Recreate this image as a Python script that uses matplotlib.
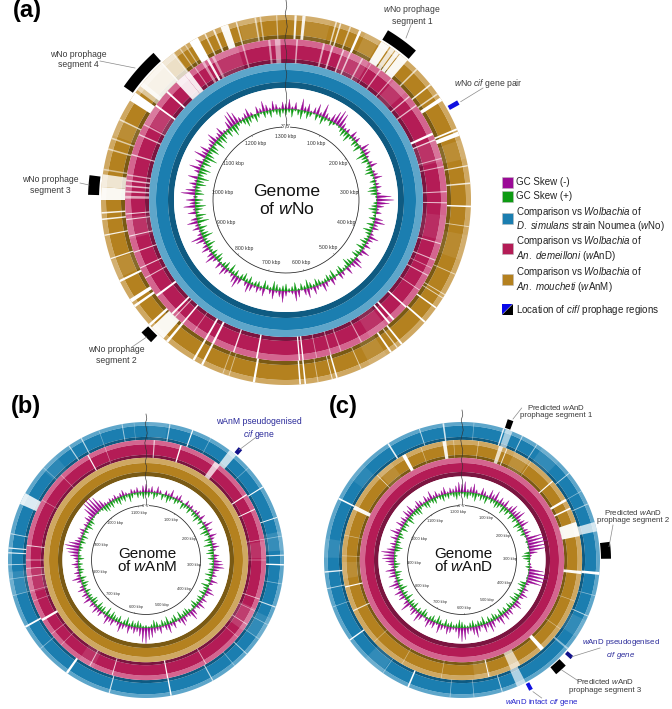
import matplotlib
matplotlib.use('Agg')
import matplotlib.pyplot as plt
from matplotlib.collections import PolyCollection
from matplotlib.patches import Rectangle, Polygon
import numpy as np

plt.rcParams['font.family'] = ['Liberation Sans', 'DejaVu Sans']
plt.rcParams['mathtext.fontset'] = 'custom'
plt.rcParams['mathtext.rm'] = 'Liberation Sans'
plt.rcParams['mathtext.it'] = 'Liberation Sans:italic'
plt.rcParams['mathtext.bf'] = 'Liberation Sans:bold'

BLUE = ['#5ea6ca', '#1b7eb0', '#0f5b82']
PINK = ['#d4658f', '#b41c56', '#7b1540']
GOLD = ['#cfa862', '#b4811f', '#7a5a14']

# track edges at the size of panel (a): rim, main band, dark band, inner edge
OUTER = (185, 180, 165, 161)
MIDDLE = (161, 155, 141, 137)
INNER = (137, 130, 118, 112)

# genome lengths (kbp) and tick labels
genome_a = 1301
genome_b = 1125
genome_c = 1216
ticks_a = [100, 200, 300, 400, 500, 600, 700, 800, 900, 1000, 1100, 1200, 1300]
ticks_b = [100, 200, 300, 400, 500, 600, 700, 800, 900, 1000, 1100]
ticks_c = [100, 200, 300, 400, 500, 600, 700, 800, 900, 1000, 1100, 1200]

# ring gaps: angle (deg clockwise from top), width, opacity of the white
gaps_a_gold = [(-88, 4, .95), (-84, 4, .8), (-80.5, .5, .5), (-74, .5, .6), (-70.5, .5, .6), (-64.2, .5, .7),
               (-56, 3, 1), (-52, 3, .55), (-47, 10, .9), (-40, 5, .75), (-37.5, .6, .6), (-35, .4, .5), (-33, .4, .5),
               (-30, 3, 1), (-26, .5, .7), (-23, .6, .8), (-19.5, 2.5, .95), (-15.6, .5, .7), (-9.6, .5, .6),
               (-8, .5, .5), (-2.9, .4, .5), (3, .7, .9), (5.6, 1, .9), (15.8, .5, .7), (17.2, .5, .8), (20.4, .5, .6),
               (23.7, .8, 1), (32.5, 3, .95), (35.2, 1.5, .8), (37, 1.4, .9), (39.5, 3, .95), (45, .5, .7),
               (51.4, .5, .9), (55, .5, .7), (57, 1.2, 1), (67.5, .6, 1), (69, 1.4, 1), (79.3, .4, .8), (84.8, .5, .8),
               (92, .5, 1), (98.3, .3, .6), (113.7, .3, .6), (120.8, .3, .7), (122, .3, .7), (125.7, .5, 1),
               (131.3, .6, 1), (141.2, .6, 1), (143, .4, .7), (145.4, .6, 1), (156, .3, .6), (164, .5, 1), (165.5, .3, .8),
               (170, .3, .5), (174, .5, 1), (175.6, .5, 1),
               (-94, .5, .9), (-96, .5, .9), (-101, .4, .9), (-108.5, .4, .9), (-116, .7, 1), (-123, 1.2, 1),
               (-125, .8, 1), (-136, 5, .95), (-132.5, .8, 1), (-140, .8, 1), (-150, .7, 1), (-153, .7, 1),
               (-160, .3, .5), (-162, .3, .5), (-170, .7, 1),
               (-12, 6, .1), (10, 8, .08), (28, 5, .12), (74, 6, .1), (105, 8, .08), (150, 6, .1), (-112, 6, .1), (-67, 5, .1)]
gaps_a_pink = [(-89, 1, .6), (-87, .6, .7), (-85, .6, .7), (-83, .6, .7), (-81, .5, .6), (-73.6, .5, .7), (-66, .5, .7),
               (-62, .5, .6), (-54, .7, 1), (-47.7, .7, 1), (-41, 4, .9), (-38, 2, .9), (-34.5, .4, .5), (-31, 1, .5),
               (-29, .9, .95), (-27, 1, .5), (-15.6, .6, .5), (-6, .8, .5), (-3, 2, .5), (4, .6, .6), (13.7, .7, .6),
               (16.9, .7, .7), (21, .6, .7), (23.6, .6, .7), (28.4, .6, .6), (32, .3, .5), (36, .5, .6), (41, .4, .6),
               (50, .5, .7), (54, .5, .7), (65.7, .9, 1), (68, .5, .8), (75, .4, .6), (78, .4, .6), (87, .4, .7),
               (91, .4, .7), (105.8, .4, .7), (112, .4, .7), (115, .3, .5), (118, .4, .7), (124, .3, .7), (131.7, .6, 1),
               (138, .7, 1), (140, .7, 1), (152, .4, .6), (160, .4, .5), (163.8, .4, .5), (169, .3, .5), (173.9, .5, 1),
               (175.2, .5, 1), (-95, .4, .8), (-97, .4, .8), (-103, .4, .8), (-109, .4, .8), (-115, .4, .8),
               (-119, .4, .7), (-126.5, .8, 1), (-135, .7, 1), (-136.5, .4, .7), (-140, .6, 1), (-145, .3, .5),
               (-150, .7, 1), (-153, .8, 1), (-161, .5, .9), (-169.5, .6, 1),
               (-22, 9, .12), (26, 10, .15), (45, 6, .12), (72, 8, .1), (100, 9, .08), (145, 7, .1), (-100, 8, .1), (-58, 7, .15)]

gaps_b_blue = [(-85, .5, .9), (-87, .5, .9), (-92, .4, .7), (-79, .4, .7), (-63.5, 5, .85), (-34, .5, .7), (-28, .5, .7),
               (-10, .4, .6), (-5, .2, .4), (10, .5, .7), (19.8, .5, 1), (39, 3.5, .75), (58, .5, 1), (72, .4, 1), (88, .5, .8),
               (92, .6, 1), (100, .3, .5), (110, .5, .8), (118, .3, .5), (133, .4, .7), (140, .3, .5), (151, .5, .7),
               (169.5, .6, 1), (-164.5, .5, .8), (-145, 1, 1), (-130, .3, .5), (-119, .8, 1), (-105, .3, .5), (-98, .3, .5),
               (-48, .3, .4), (-20, .3, .4), (28, .3, .4), (48, .3, .4), (80, .3, .5), (125, .3, .5),
               (-45, 8, .08), (5, 8, .08), (82, 8, .12), (120, 10, .1), (-100, 10, .1)]
gaps_b_pink = [(-163.6, .5, .8), (-152, .5, .7), (-120, 1.2, 1), (-98, .4, .7), (-94, .4, .7), (-90, .4, .7), (-83, .5, .8),
               (-60, .3, .5), (-45, .3, .5), (-29, .6, 1), (-20, .3, .5), (4, .6, .7), (17, .7, 1), (36.5, 3, .75), (57, .6, 1),
               (65, .5, 1), (80, .3, .6), (90, .3, .6), (109, .4, .7), (115, .3, .6), (122.5, .4, .7), (130, .3, .5),
               (150, .4, .7), (169.6, .6, 1), (-135, .3, .5), (-128, .3, .6), (-110, .3, .5), (-105, .3, .5),
               (-100, 12, .12), (120, 12, .15), (85, 8, .1), (-150, 8, .1)]

gaps_c_blue = [(-125.5, .6, 1), (-110, .3, .5), (-157, .7, 1), (-145, .3, .5), (-63.5, .7, 1), (-95, .6, .9), (-102, .4, .7),
               (-32.4, .7, .9), (-18, .4, .7), (-7.8, .7, .8), (5, .3, .4), (17.6, .6, .9), (20, 3, .6), (26, .4, .7),
               (33, .4, .6), (51, .4, .7), (60, .3, .5), (66, .4, .6), (76, 4, .75), (95.6, 1.2, 1), (105, .3, .5),
               (114, .4, .7), (130, .8, .5), (154.5, 4, .65), (163, .4, .7), (175, .3, .5), (-175, .3, .5),
               (40, 9, .1), (-50, 8, .08), (-140, 9, .1), (-85, 8, .1), (120, 8, .1)]
gaps_c_gold = [(-115, .6, .8), (-103, .6, 1), (-64, 2, .95), (-45, .4, .7), (-29, 1.8, 1), (-20, .3, .5), (-8.5, 1.8, .9),
               (-4, .3, .5), (8, .3, .6), (19, 2, .75), (22, .5, .8), (35, .3, .5), (49, .6, 1), (60, 1.2, 1), (64.5, .8, 1),
               (75, 7, .95), (96, 1.5, .95), (110, .3, .5), (125, .3, .5), (138, 2, 1), (153.5, 5, .65), (167, .5, 1),
               (-170, .3, .5), (-150, .3, .5), (-133, .3, .5), (-88, .3, .5), (-78, .3, .5),
               (30, 8, .12), (-95, 8, .1), (-40, 8, .1), (170, 8, .1)]

# GC skew per bin clockwise from the top, px at the size of panel (a)
skew_neg_a = [6, 11, 3, 8, 0, 13, 5, 9, 2, 7, 12, 4, 15, 6, 3, 9, 14, 18, 16, 7,
              3, 5, 0, 8, 4, 6, 0, 2, 10, 6, 7, 3, 1, 4, 8, 0, 3, 5, 9, 2,
              4, 6, 2, 5, 16, 19, 14, 8, 3, 6, 0, 9, 12, 5, 7, 2, 4, 11, 6, 3,
              7, 2, 10, 4, 0, 8, 12, 6, 3, 9, 1, 5, 7, 0, 4, 8, 2, 6, 10, 3,
              5, 9, 3, 11, 7, 1, 8, 12, 4, 2, 6, 13, 7, 3, 10, 5, 0, 9, 4, 7,
              3, 8, 11, 5, 0, 7, 13, 9, 4, 2, 6, 10, 3, 8, 1, 5, 12, 7, 2, 9,
              6, 3, 10, 14, 5, 2, 8, 4, 12, 7, 1, 9, 3, 13, 6, 10, 2, 16, 11, 4,
              8, 3, 11, 1, 6, 13, 4, 9, 2, 14, 7, 11, 3, 5, 8, 12, 4, 6, 10, 3,
              2, 9, 15, 17, 13, 5, 3, 6, 10, 4, 0, 8, 5, 12, 7, 3, 10, 6, 2, 8]
skew_pos_a = [7, 4, 9, 2, 6, 10, 3, 8, 5, 1, 7, 3, 9, 4, 2, 6, 3, 1, 2, 5,
              8, 6, 10, 4, 3, 7, 5, 9, 2, 4, 11, 6, 8, 3, 5, 7, 9, 4, 2, 6,
              3, 8, 10, 7, 2, 1, 4, 6, 9, 5, 3, 7, 2, 8, 4, 10, 6, 3, 5, 8,
              4, 9, 3, 6, 8, 2, 5, 7, 10, 4, 3, 8, 6, 2, 9, 5, 7, 4, 3, 6,
              8, 3, 6, 10, 4, 7, 2, 9, 5, 3, 8, 6, 4, 7, 10, 3, 5, 9, 2, 6,
              5, 3, 8, 4, 9, 6, 2, 7, 4, 10, 3, 8, 5, 2, 6, 9, 4, 7, 3, 5,
              10, 6, 4, 12, 8, 5, 9, 3, 13, 7, 11, 4, 8, 12, 6, 9, 3, 10, 7, 5,
              11, 8, 13, 6, 9, 12, 4, 10, 7, 14, 9, 5, 11, 8, 3, 12, 6, 10, 7, 4,
              9, 5, 12, 8, 4, 3, 6, 10, 7, 4, 9, 5, 2, 7, 4, 8, 3, 6, 9, 5]
skew_neg_b = [12, 6, 9, 3, 10, 5, 0, 7, 4, 11, 2, 6, 9, 3, 0, 8, 4, 6, 2, 5,
              7, 3, 9, 0, 5, 13, 4, 8, 2, 11, 6, 3, 7, 10, 4, 0, 8, 5, 12, 14,
              16, 9, 4, 7, 2, 11, 5, 0, 8, 13, 6, 3, 9, 5, 12, 7, 2, 10, 15, 6,
              4, 9, 13, 6, 2, 10, 5, 14, 8, 3, 11, 6, 9, 15, 18, 24, 22, 13, 7, 10,
              5, 12, 4, 8, 14, 6, 3, 10, 7, 13, 5, 2, 9, 6, 11, 4, 8, 3, 12, 6,
              9, 4, 11, 6, 2, 7, 13, 5, 8, 3, 6, 10, 4, 7, 12, 16, 19, 22, 17, 9,
              6, 3, 5, 8, 2, 6, 4, 10, 7, 18, 24, 27, 25, 21, 12, 5, 3, 6, 4, 7,
              3, 6, 9, 4, 2, 7, 5, 8, 3, 10]
skew_pos_b = [5, 8, 3, 10, 6, 2, 9, 4, 11, 7, 3, 8, 5, 2, 10, 6, 4, 9, 3, 7,
              6, 11, 4, 8, 2, 9, 5, 12, 7, 3, 10, 6, 13, 4, 8, 11, 5, 9, 3, 7,
              3, 8, 6, 11, 4, 9, 2, 12, 7, 5, 10, 3, 8, 6, 4, 11, 7, 2, 5, 9,
              8, 5, 11, 3, 10, 7, 4, 12, 6, 9, 3, 8, 11, 5, 2, 4, 3, 7, 10, 6,
              9, 4, 12, 7, 3, 10, 6, 8, 11, 5, 13, 4, 9, 7, 11, 3, 8, 10, 5, 6,
              4, 8, 3, 7, 10, 5, 9, 2, 6, 8, 4, 7, 3, 9, 5, 2, 4, 6, 3, 8,
              5, 9, 3, 7, 4, 10, 6, 8, 3, 2, 1, 3, 2, 4, 9, 11, 7, 10, 5, 8,
              11, 6, 9, 4, 12, 7, 3, 8, 5, 10]
skew_neg_c = [12, 16, 5, 9, 14, 6, 2, 11, 7, 3, 13, 8, 15, 4, 10, 6, 12, 3, 9, 14,
              8, 12, 16, 5, 9, 13, 3, 7, 10, 6, 24, 27, 29, 26, 25, 12, 3, 1, 0, 2,
              4, 22, 28, 30, 26, 23, 6, 3, 8, 5, 11, 7, 2, 9, 13, 6, 4, 10, 7, 12,
              5, 14, 8, 3, 11, 16, 7, 13, 4, 9, 17, 12, 6, 10, 18, 21, 16, 7, 4, 9,
              12, 5, 8, 14, 3, 10, 7, 13, 6, 2, 9, 15, 5, 11, 7, 4, 16, 8, 3, 10,
              7, 12, 4, 9, 15, 6, 3, 11, 8, 14, 5, 9, 13, 18, 16, 20, 12, 6, 9, 4,
              11, 6, 15, 8, 3, 12, 7, 10, 5, 13, 9, 14, 4, 6, 11, 8, 3, 10, 6, 13,
              5, 9, 4, 7, 11, 3, 8, 6, 10, 15]
skew_pos_c = [3, 8, 10, 5, 7, 12, 4, 9, 6, 11, 3, 7, 5, 10, 8, 4, 12, 6, 9, 3,
              10, 5, 8, 3, 11, 6, 9, 4, 7, 2, 0, 3, 1, 2, 0, 8, 12, 10, 4, 3,
              6, 2, 0, 1, 2, 0, 9, 11, 5, 8, 3, 10, 7, 12, 4, 6, 9, 3, 8, 5,
              11, 4, 7, 10, 5, 9, 3, 12, 6, 8, 4, 10, 7, 3, 5, 9, 12, 6, 4, 8,
              5, 10, 3, 7, 12, 4, 9, 6, 2, 8, 11, 5, 7, 3, 10, 6, 9, 4, 12, 5,
              8, 4, 11, 6, 3, 9, 5, 7, 10, 2, 6, 9, 4, 3, 5, 2, 8, 11, 6, 7,
              4, 9, 6, 2, 10, 5, 8, 3, 12, 7, 4, 6, 9, 11, 5, 3, 8, 10, 4, 7,
              9, 3, 6, 10, 5, 8, 4, 7, 11, 6]

# small sideways wobble of the origin marker line, px
wobble = [0, 1, -1, .5, 1.5, 0, -1.5, -.5, 1, .5, -1, 1, 0, -1, .5, 1, -.5, -1, 1, 0]


def pt(cx, cy, r, deg):
    t = np.radians(deg)
    return cx + r * np.sin(t), cy - r * np.cos(t)


def sector(ax, cx, cy, r0, r1, a0, a1, color, alpha=1, z=2):
    t = np.linspace(a0, a1, max(4, int(abs(a1 - a0) * 2)))
    xo, yo = pt(cx, cy, r1, t)
    xi, yi = pt(cx, cy, r0, t[::-1])
    ax.fill(np.r_[xo, xi], np.r_[yo, yi], color=color, alpha=alpha, lw=0, zorder=z)


def ring(ax, cx, cy, s, edges, colors, gaps=()):
    # one track: light rim, main band, dark inner band
    r3, r2, r1, r0 = [e * s for e in edges]
    sector(ax, cx, cy, r2, r3, 0, 360, colors[0])
    sector(ax, cx, cy, r1, r2, 0, 360, colors[1])
    sector(ax, cx, cy, r0, r1, 0, 360, colors[2])
    for ang, wid, alp in gaps:
        sector(ax, cx, cy, r0, r3, ang - wid / 2, ang + wid / 2, 'white', alp, z=3)


def skew(ax, cx, cy, s, values, color, direction):
    n = len(values)
    base = 91 * s
    half = 360 / n * .42
    polys = []
    for i, v in enumerate(values):
        a = i * 360 / n
        x0, y0 = pt(cx, cy, base, a - half)
        x1, y1 = pt(cx, cy, base + direction * .9 * v * s, a)
        x2, y2 = pt(cx, cy, base, a + half)
        polys.append([(x0, y0), (x1, y1), (x2, y2)])
    ax.add_collection(PolyCollection(polys, facecolors=color, edgecolors=color, linewidths=.2, zorder=4))


def inner(ax, cx, cy, s, genome, ticks, tick_fs, top, words):
    sector(ax, cx, cy, 0, 112 * s, 0, 360, 'white', z=3)
    r = 73 * s
    a = np.linspace(3.5, 356.5, 400)
    x, y = pt(cx, cy, r, a)
    ax.plot(x, y, color='#222222', lw=.55, zorder=5)
    for k in ticks:
        ang = k / genome * 360
        x0, y0 = pt(cx, cy, r, ang)
        x1, y1 = pt(cx, cy, r - 1.5 * s, ang)
        ax.plot([x0, x1], [y0, y1], color='#444444', lw=.3, zorder=5)
        lx, ly = pt(cx, cy, r - 9 * s, ang)
        ax.text(lx, ly, f'{k} kbp', fontsize=tick_fs, color='#333333', ha='center', va='center', zorder=6)
    ax.text(cx, cy - r, "3' 5'", fontsize=tick_fs, color='#333333', ha='center', va='center', zorder=6)
    # origin marker
    ys = np.linspace(top, cy - r, len(wobble))
    ax.plot(cx + np.array(wobble) * .8, ys, color='#333333', lw=.45, zorder=7)
    fs = 12.6 if s == 1 else 11
    ax.text(cx + 1, cy - 8.5 * s, words[0], fontsize=fs, ha='center', va='center', color='#111111', zorder=6)
    ax.text(cx + 1, cy + 9 * s, words[1], fontsize=fs, ha='center', va='center', color='#111111', zorder=6)


def marker(ax, cx, cy, r0, r1, a0, a1, color):
    sector(ax, cx, cy, r0, r1, a0, a1, color, z=5)


def label(ax, x, y, txt, p0, p1, color='#3a3a3a', lead='#8a8a8a', fs=6.2):
    ax.text(x, y, txt, fontsize=fs, color=color, ha='center', va='center', linespacing=1.15, zorder=8)
    ax.plot([p0[0], p1[0]], [p0[1], p1[1]], color=lead, lw=.5, zorder=7)


fig = plt.figure(figsize=(6.72, 7.09), dpi=100)
ax = fig.add_axes([0, 0, 1, 1])
ax.set_xlim(0, 672)
ax.set_ylim(709, 0)
ax.axis('off')

# (a)
cxa, cya = 286, 200
ring(ax, cxa, cya, 1, OUTER, GOLD, gaps_a_gold)
ring(ax, cxa, cya, 1, MIDDLE, PINK, gaps_a_pink)
ring(ax, cxa, cya, 1, INNER, BLUE)
inner(ax, cxa, cya, 1, genome_a, ticks_a, 3.7, 0, ('Genome', r'of $\mathit{w}$No'))
skew(ax, cxa, cya, 1, skew_neg_a, '#9b0a96', 1)
skew(ax, cxa, cya, 1, skew_pos_a, '#0d9a12', -1)
marker(ax, cxa, cya, 187, 198, 31, 41, 'black')
marker(ax, cxa, cya, 187, 198, -55, -42, 'black')
marker(ax, cxa, cya, 187, 198, -88.5, -82.8, 'black')
marker(ax, cxa, cya, 187, 196, -136.5, -132.5, 'black')
marker(ax, cxa, cya, 187, 198, 59.8, 61.2, '#1010e0')
label(ax, 412, 14.5, r'$\mathit{w}$No prophage' + '\nsegment 1', (406, 38), (411.7, 23))
label(ax, 488, 83, r'$\mathit{w}$No $\mathit{cif}$ gene pair', (460.7, 101.7), (483, 88))
label(ax, 78, 59.5, 'wNo prophage\nsegment 4', (100, 61), (135, 68))
label(ax, 50, 185, 'wNo prophage\nsegment 3', (80, 183), (89, 185))
label(ax, 116.7, 355, 'wNo prophage\nsegment 2', (132, 347), (146.7, 337))

# (b)
cxb, cyb = 146, 560
sb = 138 / 185
ring(ax, cxb, cyb, sb, OUTER, BLUE, gaps_b_blue)
ring(ax, cxb, cyb, sb, MIDDLE, PINK, gaps_b_pink)
ring(ax, cxb, cyb, sb, INNER, GOLD)
inner(ax, cxb, cyb, sb, genome_b, ticks_b, 2.9, 414, ('Genome', r'of $\mathit{w}$AnM'))
skew(ax, cxb, cyb, sb, skew_neg_b, '#9b0a96', 1)
skew(ax, cxb, cyb, sb, skew_pos_b, '#0d9a12', -1)
marker(ax, cxb, cyb, 139.5, 146, 39.4, 41.2, '#10108a')
label(ax, 259, 429, 'wAnM pseudogenised\n' + r'$\mathit{cif}$ gene', (239, 450), (256.7, 436.7), color='#2a2a9a')

# (c)
cxc, cyc = 462, 560
ring(ax, cxc, cyc, sb, OUTER, BLUE, gaps_c_blue)
ring(ax, cxc, cyc, sb, MIDDLE, GOLD, gaps_c_gold)
ring(ax, cxc, cyc, sb, INNER, PINK)
inner(ax, cxc, cyc, sb, genome_c, ticks_c, 2.9, 410, ('Genome', r'of $\mathit{w}$AnD'))
skew(ax, cxc, cyc, sb, skew_neg_c, '#9b0a96', 1)
skew(ax, cxc, cyc, sb, skew_pos_c, '#0d9a12', -1)
marker(ax, cxc, cyc, 139, 148, 18, 20.3, 'black')
marker(ax, cxc, cyc, 139, 149, 83, 89.5, 'black')
marker(ax, cxc, cyc, 139, 148, 135.5, 140.5, 'black')
marker(ax, cxc, cyc, 139.5, 147, 130.8, 132.4, '#10108a')
marker(ax, cxc, cyc, 139.5, 147, 151.2, 152.8, '#1010e0')
label(ax, 555.7, 411, 'Predicted ' + r'$\mathit{w}$' + 'AnD\nprophage segment 1', (513, 419), (521.7, 408), fs=5.7)
label(ax, 633, 516, 'Predicted ' + r'$\mathit{w}$' + 'AnD\nprophage segment 2', (609, 546.7), (613, 525), fs=5.7)
label(ax, 605, 685.7, 'Predicted ' + r'$\mathit{w}$' + 'AnD\nprophage segment 3', (561.7, 670), (578, 680.7), fs=5.7)
label(ax, 620.7, 649, r'$\mathit{w}$' + 'AnD pseudogenised\n' + r'$\mathit{cif}$ $\mathit{gene}$', (572, 656.7), (600, 648), color='#2a2a9a', fs=5.7)
label(ax, 542, 702, r'$\mathit{w}$' + 'AnD intact ' + r'$\mathit{cif}$ gene', (533, 691.7), (541.7, 698), color='#2222cc', fs=5.7)

# panel letters
ax.text(13, 10, '(a)', fontsize=17, fontweight='bold', ha='left', va='center', color='black')
ax.text(11, 407, '(b)', fontsize=17, fontweight='bold', ha='left', va='center', color='black')
ax.text(329, 407, '(c)', fontsize=17, fontweight='bold', ha='left', va='center', color='black')

# legend
LEG_X = 502
for y0, col in [(177, '#9b0a96'), (191, '#0d9a12'), (213, '#1b7eb0'), (243, '#b41c56'), (274, '#b4811f')]:
    ax.add_patch(Rectangle((LEG_X, y0), 10.5, 10.5, facecolor=col, edgecolor='#bbbbbb', lw=.4))
ax.add_patch(Polygon([(LEG_X, 304), (LEG_X + 10.5, 304), (LEG_X, 314.5)], facecolor='#0808e8', lw=0))
ax.add_patch(Polygon([(LEG_X + 10.5, 304), (LEG_X + 10.5, 314.5), (LEG_X, 314.5)], facecolor='black', lw=0))
leg_fs = 7
tx = 516
ls = 1.05
ax.text(tx, 182.3, 'GC Skew (-)', fontsize=leg_fs, color='#222222', va='center')
ax.text(tx, 196.2, 'GC Skew (+)', fontsize=leg_fs, color='#222222', va='center')
ax.text(tx, 219, 'Comparison vs $\\mathit{Wolbachia}$ of\n$\\mathit{D.\\ simulans}$ strain Noumea ($\\mathit{w}$No)',
        fontsize=leg_fs, color='#222222', va='center', linespacing=ls)
ax.text(tx, 248.5, 'Comparison vs $\\mathit{Wolbachia}$ of\n$\\mathit{An.\\ demeilloni}$ ($\\mathit{w}$AnD)',
        fontsize=leg_fs, color='#222222', va='center', linespacing=ls)
ax.text(tx, 279.5, 'Comparison vs $\\mathit{Wolbachia}$ of\n$\\mathit{An.\\ moucheti}$ ($\\mathit{w}$AnM)',
        fontsize=leg_fs, color='#222222', va='center', linespacing=ls)
ax.text(tx, 310, r'Location of $\mathit{cif/}$ prophage regions', fontsize=leg_fs, color='#222222', va='center')

fig.savefig('out.png', dpi=100)
